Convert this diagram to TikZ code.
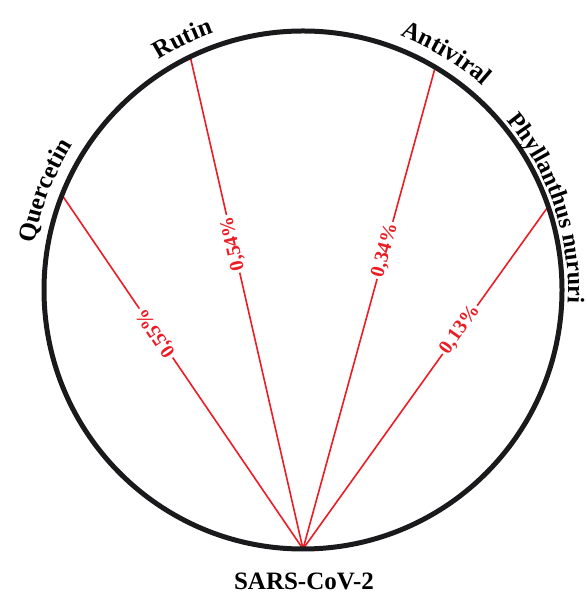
\documentclass[tikz,border=0pt]{standalone}
\usepackage{fontspec}
\setmainfont{Liberation Serif}
\usetikzlibrary{calc, decorations.text}
\definecolor{chordred}{RGB}{237,28,36}
\definecolor{ringblack}{RGB}{26,26,28}
\tikzset{
  ring/.style={draw=ringblack, line width=5pt},
  chord/.style={draw=chordred, line width=1.6pt},
  pct/.style={fill=white, text=chordred, font=\bfseries\fontsize{20}{22}\selectfont,
    inner sep=2pt, sloped, allow upside down},
  tag/.style={font=\bfseries\fontsize{25}{30}\selectfont},
  arctag/.style={decorate, decoration={text along path, text align=center,
    text={|\bfseries\fontsize{25}{30}\selectfont|#1}}},
  smallarctag/.style={decorate, decoration={text along path, text align=center,
    text={|\bfseries\fontsize{24}{28}\selectfont|#1}}}
}

\begin{document}
\begin{tikzpicture}[x=1pt, y=1pt]
  \useasboundingbox (0,0) rectangle (586,604);
  \coordinate (c) at (303,314);
  \coordinate (sars) at ($(c)+(270:259)$);
  \coordinate (quer) at ($(c)+(158.5:259)$);
  \coordinate (rutin) at ($(c)+(115.8:259)$);
  \coordinate (antiv) at ($(c)+(59.3:259)$);
  \coordinate (phyll) at ($(c)+(18.8:259)$);
  \draw[chord] (sars) -- node[pct, pos=0.61] (p-quer) {0,55\%} (quer);
  \draw[chord] (sars) -- node[pct, pos=0.62] (p-rutin) {0,54\%} (rutin);
  \draw[chord] (sars) -- node[pct, pos=0.62] (p-antiv) {0,34\%} (antiv);
  \draw[chord] (sars) -- node[pct, pos=0.64] (p-phyll) {0,13\%} (phyll);
  \draw[ring] (c) circle[radius=259];
  \path[arctag={Quercetin}] ($(c)+(189:272)$) arc[start angle=189, end angle=129, radius=272];
  \path[arctag={Rutin}] ($(c)+(145.6:272)$) arc[start angle=145.6, end angle=85.6, radius=272];
  \path[arctag={Antiviral}] ($(c)+(88.8:272)$) arc[start angle=88.8, end angle=28.8, radius=272];
  \path[smallarctag={Phyllanthus nururi}] ($(c)+(58.5:265)$) arc[start angle=58.5, end angle=-21.5, radius=265];
  \node[tag] (sars-lbl) at (304,23) {SARS-CoV-2};
\end{tikzpicture}
\end{document}
